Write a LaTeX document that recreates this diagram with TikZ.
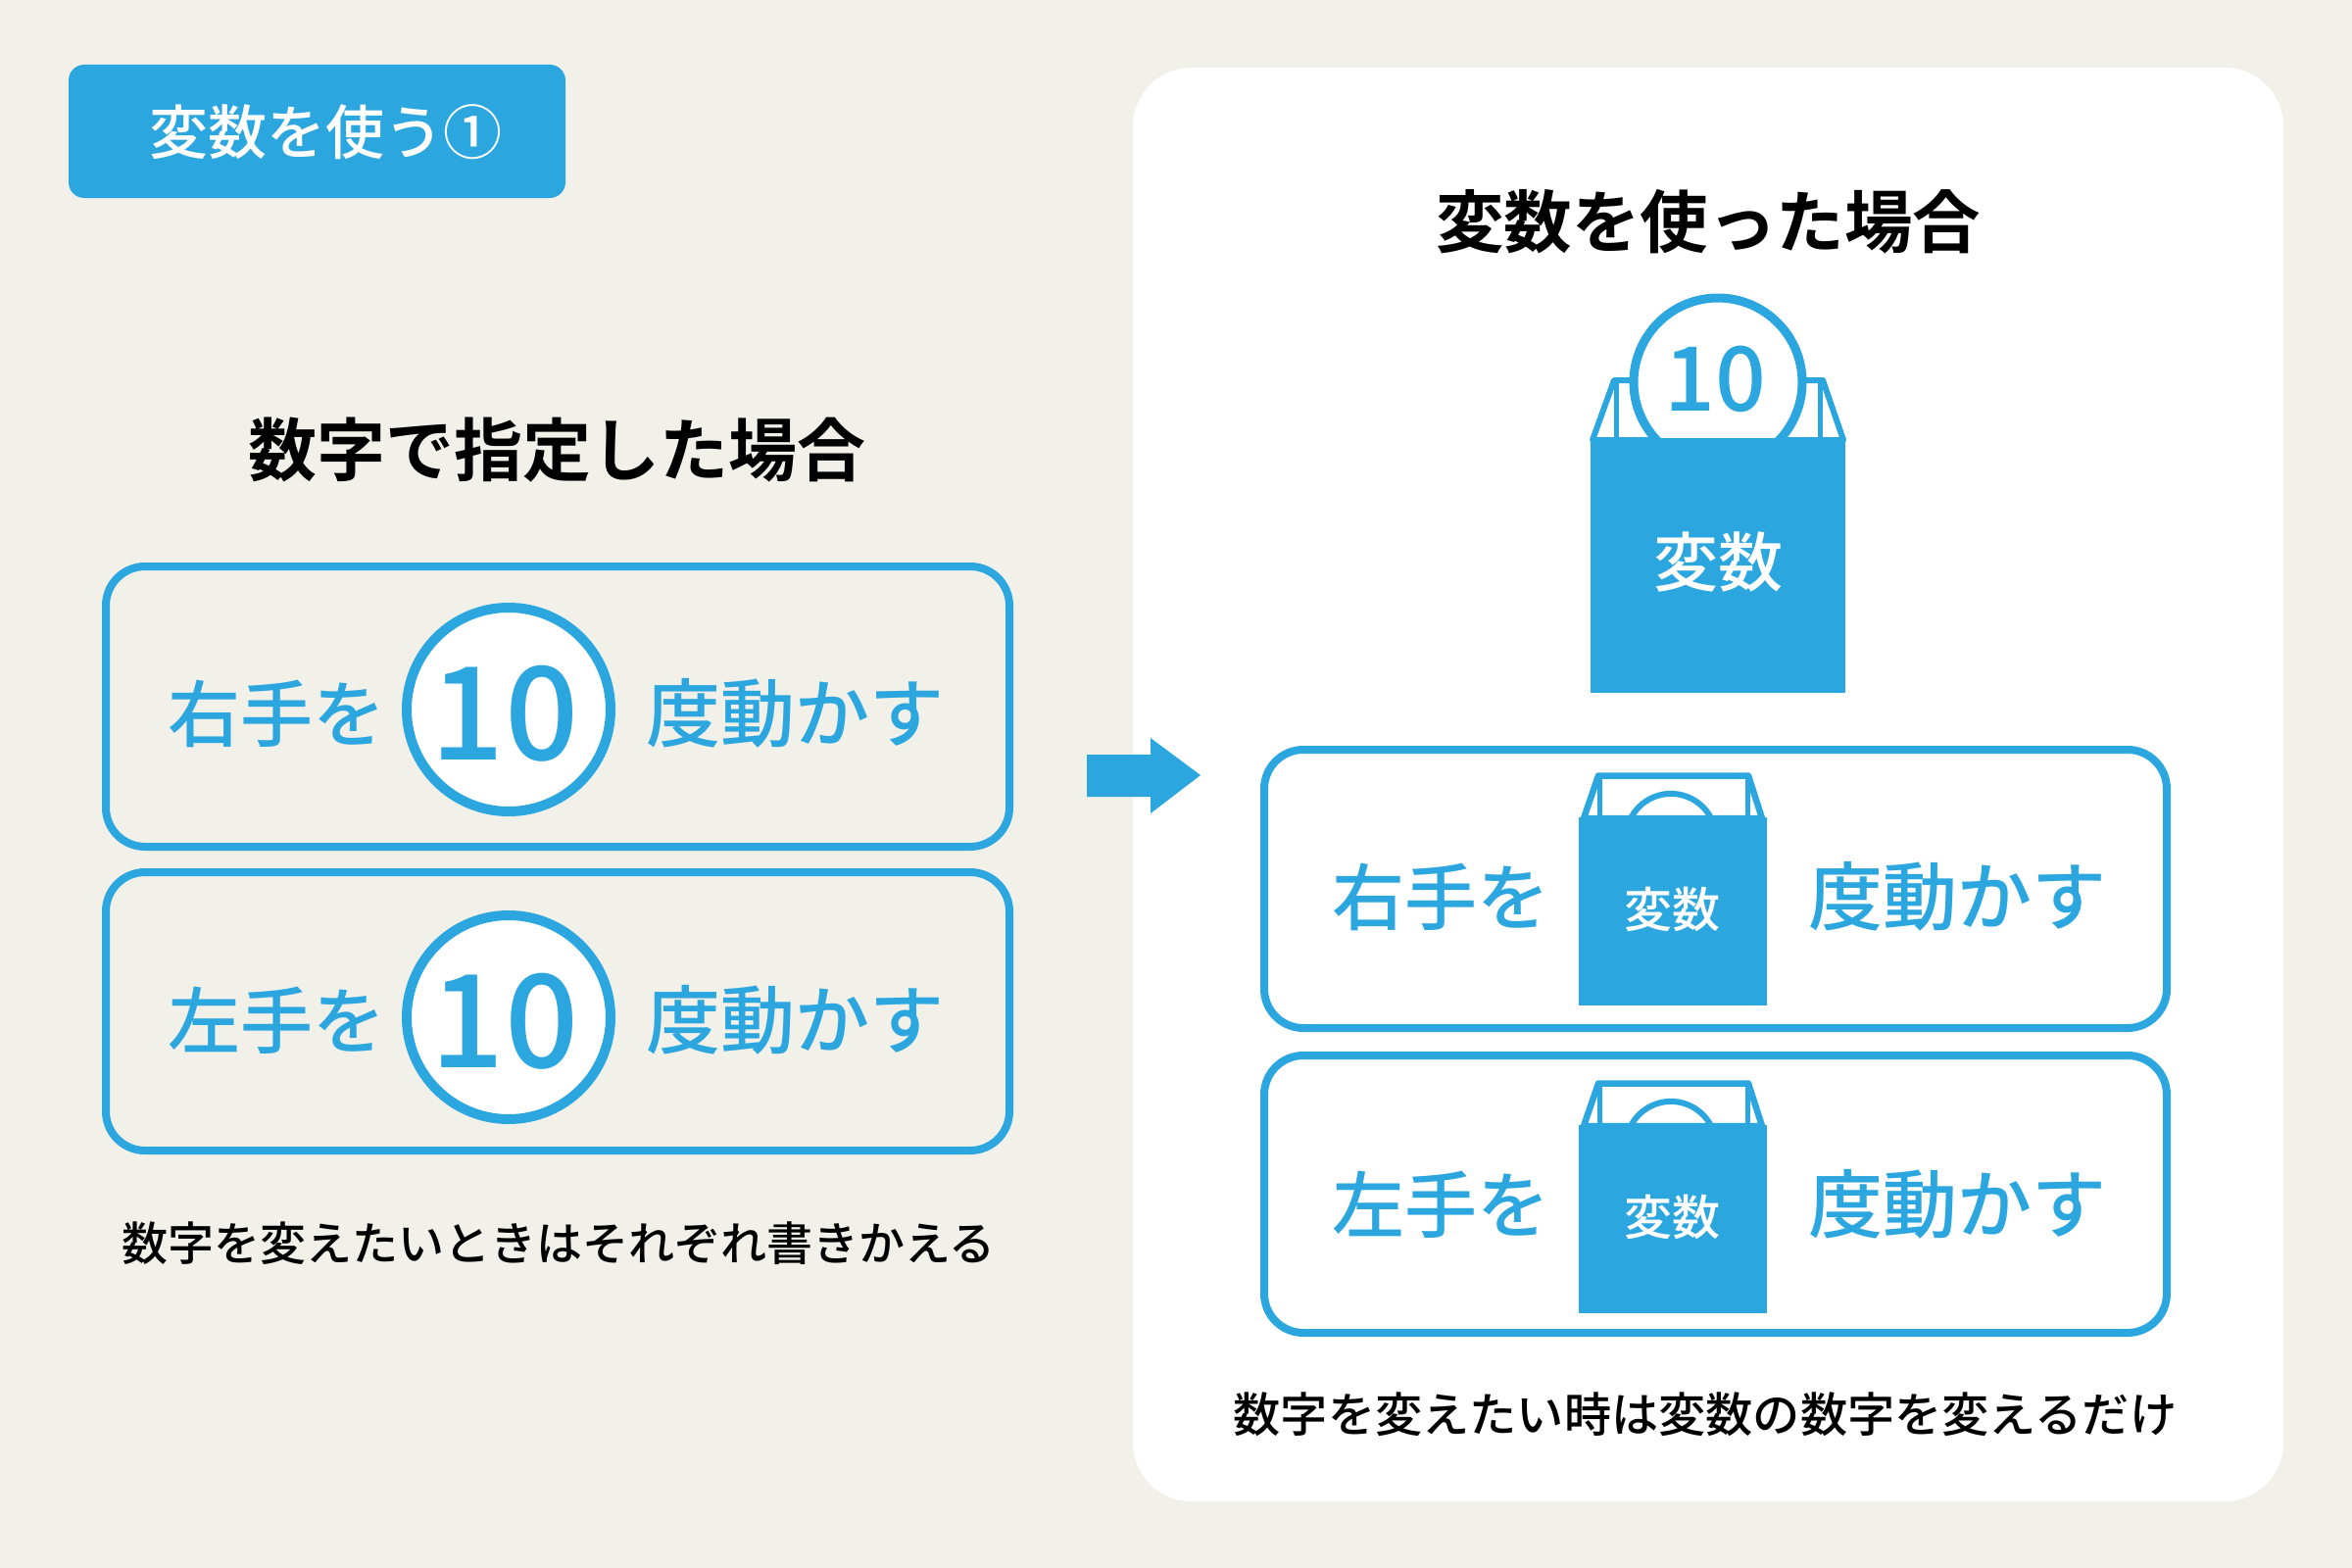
\documentclass[tikz,border=0pt]{standalone}
\usepackage{fontspec}
\newfontfamily\jp{Noto Sans CJK JP Medium}
\newfontfamily\jpb{Noto Sans CJK JP Bold}
\newfontfamily\num{Noto Sans CJK JP Medium}
\definecolor{blu}{HTML}{2CA6DF}
\definecolor{bg}{HTML}{F1F0E9}
\tikzset{
  panel/.style={fill=white,rounded corners=60pt,draw=none},
  badge/.style={fill=blu,rounded corners=16pt,draw=none},
  rowbox/.style={draw=blu,line width=8pt,rounded corners=40pt,fill=none},
  bagline/.style={draw=blu,line join=round},
  lbl/.style={inner sep=0pt,anchor=base},
  coin/.style={draw=blu,fill=white,circle,inner sep=0pt,minimum size=#1},
}
\newcommand{\jt}[7][\jp]{\node[lbl,text=#6] (#2) at (#3,{#4+0.38*#5}) {\fontsize{#5pt}{#5pt}#1\selectfont #7};}
\newcommand{\smallbag}[2]{%
  \begin{scope}[shift={(0,#1)}]
    \draw[bagline,line width=5pt] (1632,792) -- (1632,835) (1783,792) -- (1783,835);
    \draw[bagline,line width=6.5pt] (1616,835) -- (1631,791.5) -- (1784,791.5) -- (1798,835) -- cycle;
    \draw[bagline,line width=6pt] (1664,835) arc[start angle=207,end angle=333,radius=46];
    \fill[blu] (1611,834) rectangle (1803,1026);
    \jt{#2}{1706}{928}{49}{white}{変数}
  \end{scope}}
\newcommand{\numtext}[5]{\node[lbl,text=blu] (#1) at (#2,{#3+0.365*#4}) {\fontsize{#4pt}{#4pt}\num\selectfont #5};}
\begin{document}
\begin{tikzpicture}[x=1pt,y=-1pt]
\fill[bg] (0,0) rectangle (2400,1600);
\useasboundingbox (0,0) rectangle (2400,1600);
\draw[panel] (1156,69) rectangle (2330,1532);
\draw[badge] (70,66) rectangle (577,202);
\jt{badgetext}{332}{135}{60}{white}{変数を使う①}
% left
\jt{ltitle}{568}{459}{70}{black}{\jpb 数字で指定した場合}
\draw[rowbox] (108,578) rectangle (1030,864);
\draw[rowbox] (108,890) rectangle (1030,1174);
\node[coin=208pt,line width=10pt] (c1) at (519,724) {};
\node[coin=208pt,line width=10pt] (c2) at (519,1038) {};
\numtext{n1}{515}{727}{132}{10}
\numtext{n2}{515}{1041}{132}{10}
\jt{l1a}{282}{728}{74}{blu}{右手を}
\jt{l1b}{811}{728}{76}{blu}{度動かす}
\jt{l2a}{282}{1041}{74}{blu}{左手を}
\jt{l2b}{811}{1041}{76}{blu}{度動かす}
\jt{lcap}{570}{1269}{47}{black}{数字を変えたいときはそれぞれ書きかえる}
% arrow
\fill[blu] (1109,770) -- (1174,770) -- (1174,753) -- (1225,791) -- (1174,830) -- (1174,813) -- (1109,813) -- cycle;
% right
\jt{rtitle}{1743}{226}{69.5}{black}{\jpb 変数を使った場合}
\draw[bagline,line width=5pt] (1649,388) -- (1649,450) (1857,388) -- (1857,450);
\draw[bagline,line width=6pt] (1625,449) -- (1647,388) -- (1860,388) -- (1881,449) -- cycle;
\node[coin=172pt,line width=9pt] (bc) at (1753,390) {};
\numtext{bn}{1750}{386}{91}{10}
\fill[blu] (1623,447) rectangle (1883,707);
\jt{bv}{1753}{573}{66}{white}{変数}
\draw[rowbox] (1290,765) rectangle (2211,1049);
\draw[rowbox] (1290,1077) rectangle (2211,1360);
\jt{r1a}{1470}{915}{74}{blu}{右手を}
\jt{r1b}{1997}{915}{76}{blu}{度動かす}
\jt{r2a}{1470}{1229}{74}{blu}{左手を}
\jt{r2b}{1997}{1229}{76}{blu}{度動かす}
\smallbag{0}{sb1}
\smallbag{314}{sb2}
\jt{rcap}{1740}{1443}{48.2}{black}{数字を変えたい時は変数の数字を変えるだけ}
\end{tikzpicture}
\end{document}
